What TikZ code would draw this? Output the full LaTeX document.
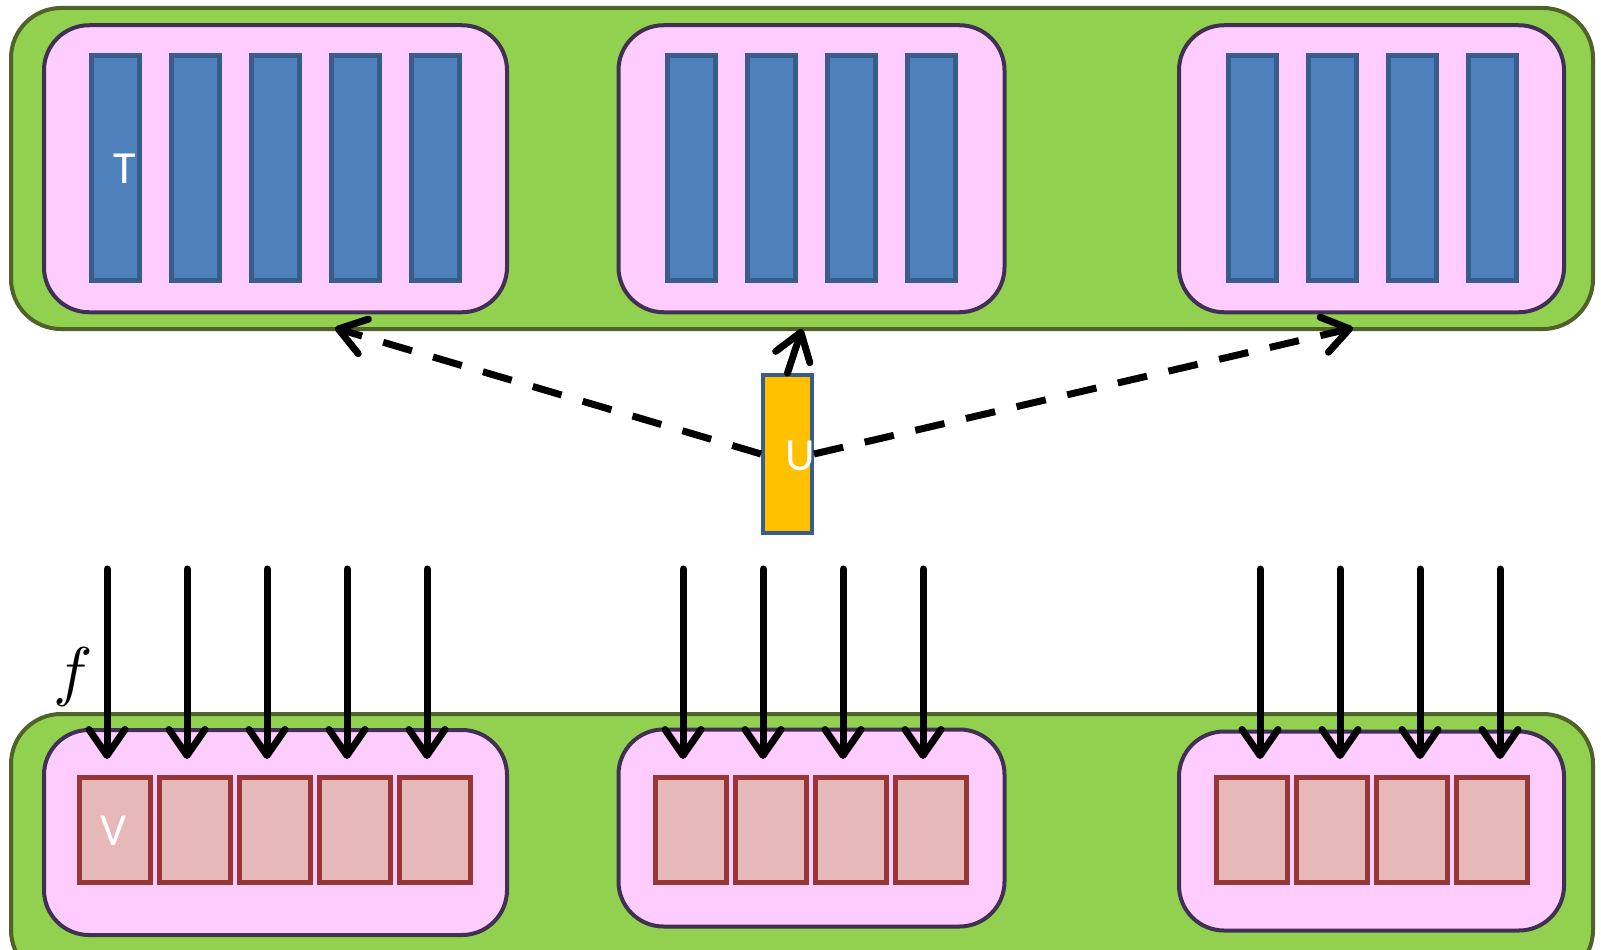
\documentclass[tikz,border=0pt]{standalone}
\usepackage{fontspec}
\newfontfamily\lblfont{Carlito}
\usetikzlibrary{arrows.meta,calc}
\definecolor{grn}{HTML}{92D050}
\definecolor{grnb}{HTML}{4F6228}
\definecolor{pnk}{HTML}{FFCCFF}
\definecolor{pnkb}{HTML}{403152}
\definecolor{blu}{HTML}{4F81BD}
\definecolor{blub}{HTML}{385D8A}
\definecolor{rd}{HTML}{E6B9B8}
\definecolor{rdb}{HTML}{953735}
\definecolor{yel}{HTML}{FFC000}
\begin{document}
\begin{tikzpicture}[x=1pt,y=-1pt,
 outerbox/.style={draw=grnb, fill=grn, line width=4pt, rounded corners=50pt, inner sep=0pt},
 pinkbox/.style={draw=pnkb, fill=pnk, line width=4pt, rounded corners=45pt, inner sep=0pt},
 tbar/.style={draw=blub, fill=blu, line width=5pt, minimum width=48pt, minimum height=225pt, inner sep=0pt},
 vcell/.style={draw=rdb, fill=rd, line width=5pt, minimum width=71pt, minimum height=105pt, inner sep=0pt},
 ubox/.style={draw=blub, fill=yel, line width=4pt, minimum width=49pt, minimum height=158pt, inner sep=0pt},
 lbl/.style={text=white, font=\lblfont\fontsize{46}{50}\selectfont, inner sep=0pt},
 arr/.style={line width=7pt, line cap=round, -{Straight Barb[length=26pt,width=36pt,round]}},
 darr/.style={line width=7pt, dash pattern=on 30pt off 22pt, -{Straight Barb[length=26pt,width=36pt,round]}}
]
\clip (0,0) rectangle (1601,950);
\fill[white] (0,0) rectangle (1601,950);

% outer green containers
\node[outerbox, minimum width=1582pt, minimum height=321pt] (gtop) at (802,168.5) {};
\node[outerbox, minimum width=1582pt, minimum height=266pt] (gbot) at (802,847) {};

% top pink groups
\node[pinkbox, minimum width=463pt, minimum height=287pt] (pt1) at (275.5,168.75) {};
\node[pinkbox, minimum width=386pt, minimum height=287pt] (pt2) at (811.5,168.75) {};
\node[pinkbox, minimum width=385pt, minimum height=287pt] (pt3) at (1371.5,168.75) {};

% bottom pink groups
\node[pinkbox, minimum width=463pt, minimum height=205pt] (pb1) at (275.5,832.5) {};
\node[pinkbox, minimum width=386pt, minimum height=197pt] (pb2) at (811.5,828) {};
\node[pinkbox, minimum width=385pt, minimum height=199pt] (pb3) at (1371.5,831) {};

% blue bars
\foreach \i/\x in {1/115.5,2/195.5,3/275.5,4/355.5,5/435.5}
  \node[tbar] (ta\i) at (\x,168) {};
\foreach \i/\x in {1/691,2/771,3/851,4/931}
  \node[tbar] (tb\i) at (\x,168) {};
\foreach \i/\x in {1/1252,2/1332,3/1412,4/1492}
  \node[tbar] (tc\i) at (\x,168) {};

% red cells
\foreach \i/\x in {1/115,2/195,3/275,4/355,5/435}
  \node[vcell] (va\i) at (\x,830) {};
\foreach \i/\x in {1/691,2/771,3/851,4/931}
  \node[vcell] (vb\i) at (\x,830) {};
\foreach \i/\x in {1/1252,2/1332,3/1412,4/1492}
  \node[vcell] (vc\i) at (\x,830) {};

% U box
\node[ubox] (U) at (787.5,454) {};

% free ends of the U connectors
\coordinate (tipL) at (335,328);
\coordinate (tipM) at (802,329);
\coordinate (tipR) at (1353,328);

\draw[darr] (U.west) -- (tipL);
\draw[darr] (U.east) -- (tipR);
\draw[arr] (U.north) -- (tipM);

% downward arrows
\foreach \n in {va1,va2,va3,va4,va5,vb1,vb2,vb3,vb4}
  \draw[arr] ($(\n.north)+(-8,-206)$) -- ($(\n.north)+(-8,-16)$);
\foreach \n in {vc1,vc2,vc3,vc4}
  \draw[arr] ($(\n.north)+(8,-206)$) -- ($(\n.north)+(8,-16)$);

% labels
\node[lbl] (lT) at (125,169) {T};
\node[lbl] (lV) at (114,831) {V};
\node[lbl] (lU) at (800,456) {U};
\node[inner sep=0pt, scale=6.6] (lf) at (73,677) {$f$};
\end{tikzpicture}
\end{document}
